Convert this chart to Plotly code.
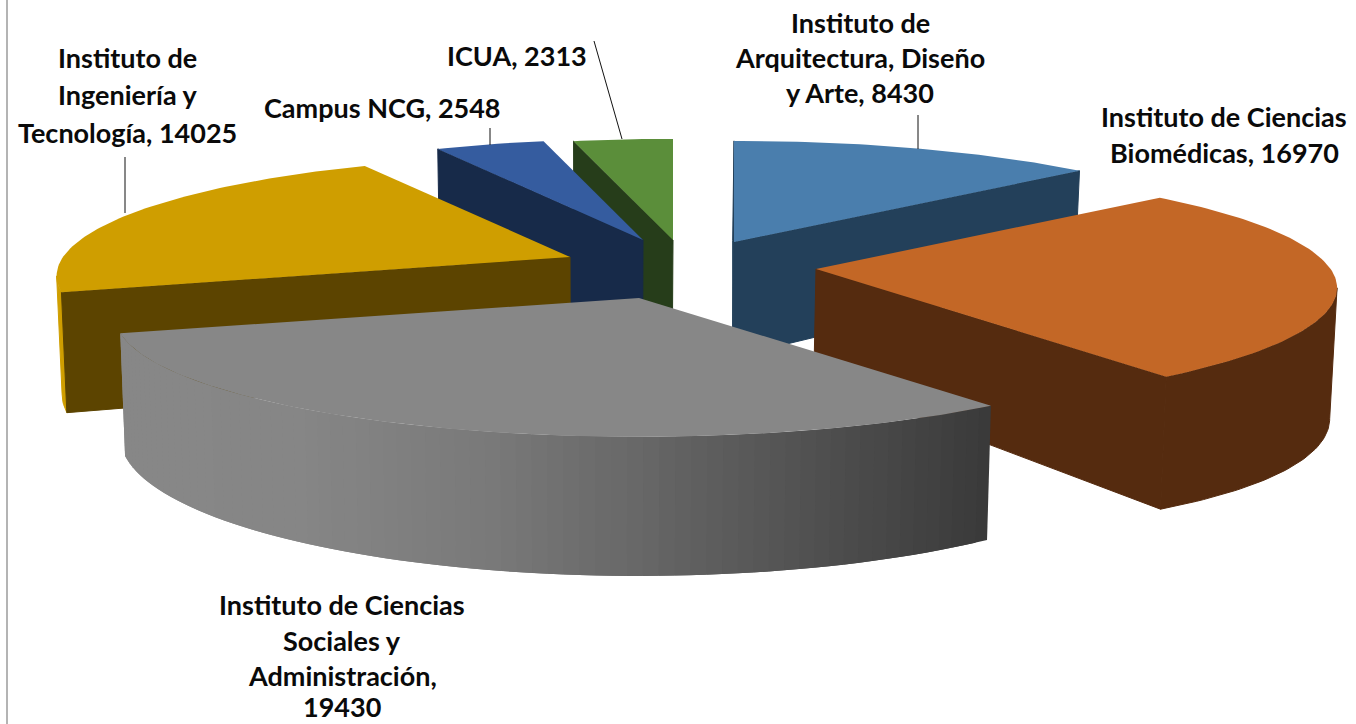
import math
import plotly.graph_objects as go

# ---- data ----
names = ["Instituto de Arquitectura, Diseño y Arte", "Instituto de Ciencias Biomédicas",
         "Instituto de Ciencias Sociales y Administración", "Instituto de Ingeniería y Tecnología",
         "Campus NCG", "ICUA"]
values = [8430, 16970, 19430, 14025, 2548, 2313]
label_breaks = [["Instituto de", "Arquitectura, Diseño", "y Arte, {v}"],
                ["Instituto de Ciencias", "Biomédicas, {v}"],
                ["Instituto de Ciencias", "Sociales y", "Administración,", "{v}"],
                ["Instituto de", "Ingeniería y", "Tecnología, {v}"],
                ["Campus NCG, {v}"],
                ["ICUA, {v}"]]
top_colors = ["#4A7EAD", "#C36726", "#878787", "#CF9E00", "#355C9F", "#5B8E3A"]
wall_colors = ["#23405A", "#552B0F", None, "#CF9E00", "#172A49", "#263D1A"]
face_colors = ["#23405A", "#552B0F", "#878787", "#5C4400", "#172A49", "#263D1A"]

# ---- layout of the exploded perspective pie ----
W, H = 1356, 724
R, K, BR, WALL = 507.0, 0.157, 117.0, 115.0
CONVERGE, CONV_X = 0.99, 600.0
apex = [(734, 242), (816, 269), (639, 298), (570, 257), (643, 240), (673, 240)]
scale = [1.02, 1.015, 1.02, 1.0, 1.0, 1.0]
wall_base = [1.0, 0.95, 1.02, 1.0, 1.0, 1.0]
wall_bulge = [0.0, 0.17, 0.0, 0.0, 0.0, 0.0]
faces = [("start", "end"), ("end",), (), ("start",), ("start",), ("start",)]
paint_order = [0, 5, 4, 3, 1, 2]
label_x = [860, 1224, 342, 127, 382, 517]
label_y = [[22, 57, 92], [116, 152], [604, 640, 675, 706], [57, 94, 132], [107], [55]]
leaders = [((918, 115), (918, 149)), ((490, 128), (490, 145)),
           ((594, 41), (622, 139)), ((125, 157), (125, 213))]
gray_stops = [(120, 0x87), (300, 0x86), (500, 0x78), (640, 0x67), (800, 0x52), (987, 0x3A)]
FONT = dict(family="Lato, Carlito, sans-serif", size=27, color="#0a0a0a")
FRONT_START = math.degrees(math.acos(-K))   # where the rim turns away from the viewer
FRONT_END = 360.0 - FRONT_START


def project(i, deg, r=1.0, down=False):
    a = math.radians(deg)
    X, Y = r * math.sin(a), r * math.cos(a)
    s = 1.0 / (1.0 + K * Y)
    x = apex[i][0] + R * scale[i] * X * s
    y = apex[i][1] - BR * Y * s
    if down:
        y += WALL * s * wall_base[i] * (1.0 + wall_bulge[i] * X * X)
        x = CONV_X + (x - CONV_X) * CONVERGE
    return x, y


def poly(xs, ys, color, name, lw=1.0):
    return go.Scatter(x=xs + xs[:1], y=ys + ys[:1], mode="lines", fill="toself", fillcolor=color,
                      line=dict(color=color, width=lw), hoverinfo="skip", name=name, showlegend=False)


def gray_at(x):
    for (x0, g0), (x1, g1) in zip(gray_stops, gray_stops[1:]):
        if x <= x1:
            g = g0 + (g1 - g0) * max(0.0, x - x0) / (x1 - x0)
            break
    else:
        g = gray_stops[-1][1]
    g = int(round(g))
    return f"rgb({g},{g},{g})"


total = sum(values)
spans, acc = [], 0.0
for v in values:
    spans.append((acc, acc + v / total * 360.0))
    acc += v / total * 360.0


def arc(a0, a1, step=1.0):
    n = max(2, int(abs(a1 - a0) / step) + 1)
    return [a0 + (a1 - a0) * j / (n - 1) for j in range(n)]


fig = go.Figure()
for i in paint_order:
    a0, a1 = spans[i]
    nm = names[i]
    # outer wall (part of the rim that faces the viewer)
    w0, w1 = max(a0, FRONT_START), min(a1, FRONT_END)
    if w1 > w0:
        if wall_colors[i] is None:
            angs = arc(w0, w1, 1.5)
            for k, (b0, b1) in enumerate(zip(angs, angs[1:])):
                b2 = angs[min(k + 2, len(angs) - 1)]   # overlap the next strip, so no seams show
                sub = arc(b0, b2, 0.5)
                pts = [project(i, b) for b in sub] + [project(i, b, down=True) for b in reversed(sub)]
                c = gray_at((project(i, b0)[0] + project(i, b1)[0]) / 2)
                fig.add_trace(poly([q[0] for q in pts], [q[1] for q in pts], c, nm, lw=0))
        else:
            angs = arc(w0, w1)
            top = [project(i, b) for b in angs]
            bot = [project(i, b, down=True) for b in reversed(angs)]
            fig.add_trace(poly([q[0] for q in top + bot], [q[1] for q in top + bot], wall_colors[i], nm))
    # radial cut faces
    for f in faces[i]:
        ang = a0 if f == "start" else a1
        p = [project(i, 0, 0), project(i, ang), project(i, ang, down=True), project(i, 0, 0, down=True)]
        fig.add_trace(poly([q[0] for q in p], [q[1] for q in p], face_colors[i], nm))
    # top
    p = [project(i, 0, 0)] + [project(i, b) for b in arc(a0, a1)]
    fig.add_trace(poly([q[0] for q in p], [q[1] for q in p], top_colors[i], nm, lw=0))

for i, lines in enumerate(label_breaks):
    for line, y in zip(lines, label_y[i]):
        fig.add_annotation(x=label_x[i], y=y, text="<b>" + line.format(v=values[i]) + "</b>", showarrow=False,
                           xanchor="center", yanchor="middle", font=FONT)

shapes = [dict(type="line", x0=a[0], y0=a[1], x1=b[0], y1=b[1], line=dict(color="#111111", width=1))
          for a, b in leaders]
shapes.append(dict(type="line", x0=7, y0=0, x1=7, y1=H, line=dict(color="#B4B4B4", width=2)))

fig.update_layout(width=W, height=H, autosize=False, margin=dict(l=0, r=0, t=0, b=0),
                  paper_bgcolor="white", plot_bgcolor="white", showlegend=False, shapes=shapes,
                  xaxis=dict(range=[0, W], visible=False, fixedrange=True),
                  yaxis=dict(range=[H, 0], visible=False, fixedrange=True))
fig.write_html("out.html", post_script="document.body.style.margin='0';",
               config=dict(displayModeBar=False))
